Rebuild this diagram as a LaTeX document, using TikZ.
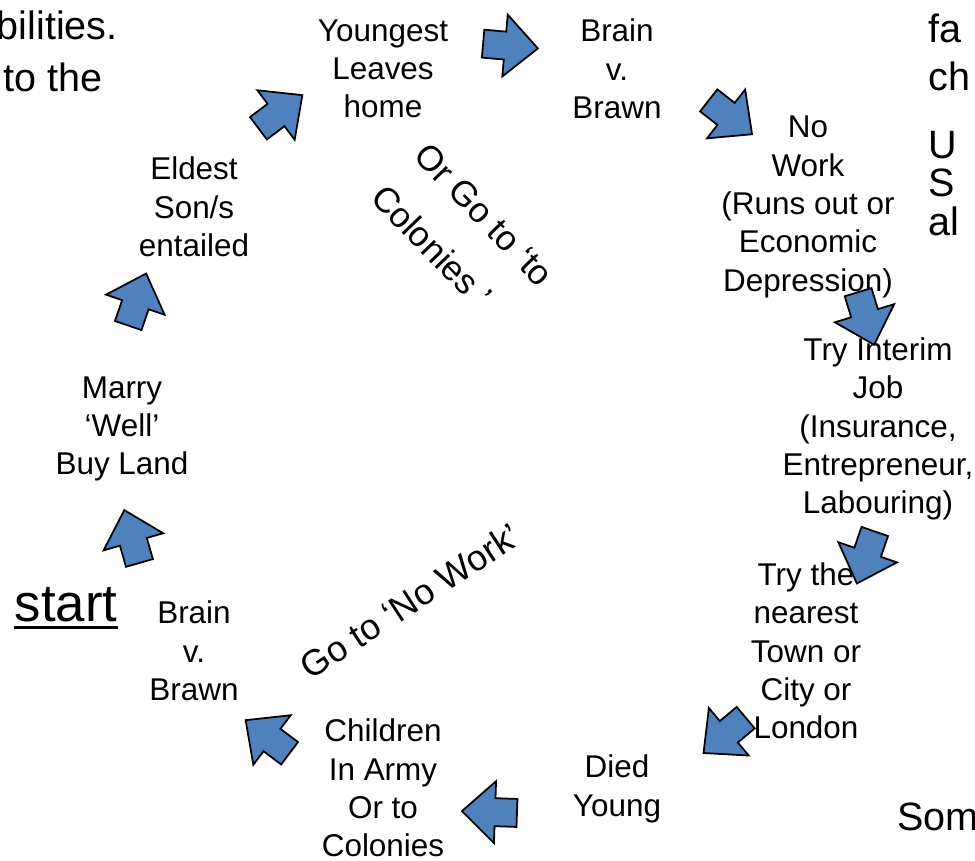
\documentclass[tikz,border=0pt]{standalone}
\usepackage{fontspec}
\setmainfont{Liberation Sans}
\usepackage{tikz}
\definecolor{bleu}{HTML}{4F81BD}
\tikzset{lbl/.style={
    align=center,
    inner sep=0pt,
    font=\fontsize{17.9}{21.8}\selectfont}}
\tikzset{sidetxt/.style={
    inner sep=0pt,
    font=\fontsize{22.5}{27}\selectfont}}
\tikzset{slanttxt/.style={
    align=left,
    inner sep=0pt,
    font=\fontsize{20}{34}\selectfont}}
\tikzset{blockarrow/.pic={
    \path[draw=black, line width=1pt, fill=bleu, line join=miter]
      (-27,-14) -- (-5,-14) -- (-5,-31) -- (28,0) -- (-5,31) -- (-5,14) -- (-27,14) -- cycle;}}

\begin{document}
\begin{tikzpicture}[x=0.02cm,y=-0.02cm]
\useasboundingbox (0,0) rectangle (975,860);

\coordinate (Y) at (383,69);
\coordinate (BT) at (617,69);
\coordinate (NW) at (808,207);
\coordinate (TI) at (878,429);
\coordinate (TT) at (806,651);
\coordinate (DY) at (617,789);
\coordinate (CA) at (383,788);
\coordinate (BB) at (194,651);
\coordinate (MW) at (122,429);
\coordinate (ES) at (194,207);

\node[lbl] (youngest) at (Y) {Youngest\\Leaves\\home};
\node[lbl] (braintop) at (BT) {Brain\\v.\\Brawn};
\node[lbl] (nowork) at (NW) {No\\Work\\(Runs out or\\Economic\\Depression)};
\node[lbl] (interim) at (TI) {Try Interim\\Job\\(Insurance,\\Entrepreneur,\\Labouring)};
\node[lbl] (town) at (TT) {Try the\\nearest\\Town or\\City or\\London};
\node[lbl] (died) at (DY) {Died\\Young};
\node[lbl] (army) at (CA) {Children\\In Army\\Or to\\Colonies};
\node[lbl] (brainbot) at (BB) {Brain\\v.\\Brawn};
\node[lbl] (marry) at (MW) {Marry\\`Well'\\Buy Land};
\node[lbl] (eldest) at (ES) {Eldest\\Son/s\\entailed};

\node[inner sep=0pt, anchor=base, font=\fontsize{30}{36}\selectfont] (start) at (66,621) {start};
\draw[line width=1.6pt] ([yshift=-3.5pt]start.base west) -- ([yshift=-3.5pt]start.base east);

\node[slanttxt, rotate=-46, anchor=north west] (colonies) at (430,140) {Or Go to ‘to\\Colonies ’};
\node[lbl, font=\fontsize{20.5}{24}\selectfont, rotate=33] (gonowork) at (410,601) {Go to ‘No Work’};

% fragments cut by the edges
\node[sidetxt, anchor=base east] (lt1) at (118,39) {bilities.};
\node[sidetxt, anchor=base east] (lt2) at (103,91) {to the};
\node[sidetxt, anchor=base west] (rt1) at (928,42) {fa};
\node[sidetxt, anchor=base west] (rt2) at (928,90) {ch};
\node[sidetxt, anchor=base west] (rt3) at (928,158) {U};
\node[sidetxt, anchor=base west] (rt4) at (928,196) {S};
\node[sidetxt, anchor=base west] (rt5) at (928,235) {al};
\node[sidetxt, anchor=base west] (rb1) at (897,830) {Some};

% the ring of arrows
\pic[rotate=106] at (132,537) {blockarrow};
\pic[rotate=71] at (137,300) {blockarrow};
\pic[rotate=37] at (280,112) {blockarrow};
\pic[rotate=-5] at (510,46) {blockarrow};
\pic[rotate=-38] at (730,117) {blockarrow};
\pic[rotate=-73] at (866,318) {blockarrow};
\pic[rotate=-109] at (866,557) {blockarrow};
\pic[rotate=-140] at (725,735) {blockarrow};
\pic[rotate=178] at (490,812) {blockarrow};
\pic[rotate=143] at (268,737) {blockarrow};
\end{tikzpicture}
\end{document}
